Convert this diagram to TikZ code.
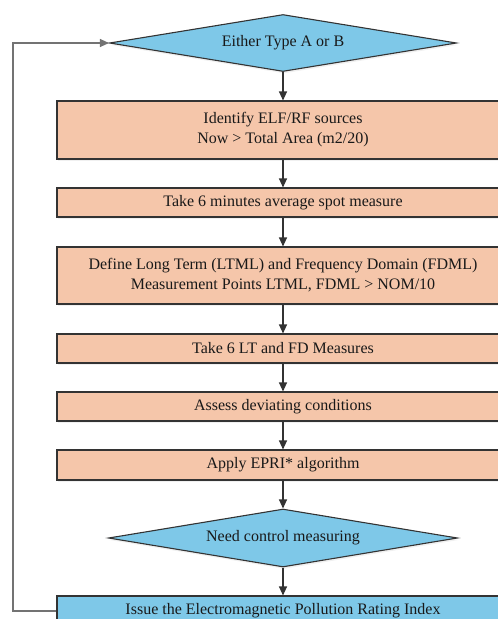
\documentclass[tikz,border=0pt]{standalone}
\usepackage{fontspec}
\setmainfont{Liberation Serif}
\usetikzlibrary{arrows.meta,shapes.geometric,shadows}
\definecolor{peach}{HTML}{F5C6AA}
\definecolor{sky}{HTML}{7EC8E8}
\definecolor{edge}{HTML}{333333}

\begin{document}
\begin{tikzpicture}[x=1pt,y=-1pt,line width=1.1pt,
	font=\rmfamily\fontsize{16}{20}\selectfont,text=black!90,
	stepbox/.style={rectangle,draw=edge,fill=peach,minimum width=452pt,align=center,
		inner sep=0pt,drop shadow={opacity=0.12,shadow xshift=1pt,shadow yshift=-2pt}},
	decision/.style={diamond,aspect=6,draw=edge,fill=sky,inner sep=0pt,
		drop shadow={opacity=0.12,shadow xshift=1pt,shadow yshift=-2pt}},
	flow/.style={draw=edge,-{Triangle[length=9pt,width=8pt]}}]
	\useasboundingbox (0,0) rectangle (498,619);
	\clip (0,0) rectangle (498,619);
	\node (type) at (283,43) [decision,minimum width=347pt,minimum height=57pt] {Either Type A or B};
	\node (identify) at (283,130) [stepbox,minimum height=58pt] {Identify ELF/RF sources\\Now > Total Area (m2/20)};
	\node (spot) at (283,202.5) [stepbox,minimum height=29pt] {Take 6 minutes average spot measure};
	\node (define) at (283,275.5) [stepbox,minimum height=57pt] {Define Long Term (LTML) and Frequency Domain (FDML)\\Measurement Points LTML, FDML > NOM/10};
	\node (ltfd) at (283,348.5) [stepbox,minimum height=29pt] {Take 6 LT and FD Measures};
	\node (assess) at (283,406.5) [stepbox,minimum height=29pt] {Assess deviating conditions};
	\node (epri) at (283,465) [stepbox,minimum height=30pt] {Apply EPRI* algorithm};
	\node (control) at (283,538) [decision,minimum width=349pt,minimum height=58pt] {Need control measuring};
	\node (issue) at (283,611) [stepbox,fill=sky,minimum height=30pt] {Issue the Electromagnetic Pollution Rating Index};
	\coordinate (back) at (13,0);
	\draw [flow] (type) -- (identify);
	\draw [flow] (identify) -- (spot);
	\draw [flow] (spot) -- (define);
	\draw [flow] (define) -- (ltfd);
	\draw [flow] (ltfd) -- (assess);
	\draw [flow] (assess) -- (epri);
	\draw [flow] (epri) -- (control);
	\draw [flow] (control) -- (issue);
	\draw [flow,draw=gray!90!black] (issue.west) -- (issue.west -| back) |- (type.west);
\end{tikzpicture}
\end{document}
